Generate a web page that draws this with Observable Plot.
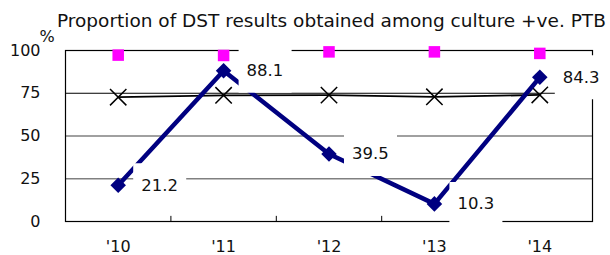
<!DOCTYPE html>
<html>
<head>
<meta charset="utf-8">
<script src="https://cdn.jsdelivr.net/npm/d3@7"></script>
<script src="https://cdn.jsdelivr.net/npm/@observablehq/plot@0.6"></script>
<style>
  html, body { margin: 0; padding: 0; background: #fff; }
  #title { font-family: "DejaVu Sans", sans-serif; font-size: 18.5px; color: #111; height: 25px; line-height: 35px; padding-left: 57px; white-space: nowrap; box-sizing: border-box; padding-top: 3px; overflow: visible; position: relative; z-index: 1; }
</style>
</head>
<body>
<div id="title">Proportion of DST results obtained among culture +ve. PTB</div>
<div id="chart"></div>
<script>
const years = ["'10", "'11", "'12", "'13", "'14"];
const dstObtained = [21.2, 88.1, 39.5, 10.3, 84.3];
const blackSeries = [72.7, 73.8, 73.9, 72.9, 74.0];
const magentaSeries = [97.3, 97.1, 99.2, 99.2, 98.3];
const yTicks = [0, 25, 50, 75, 100];
const yUnit = "%";

const pos = years.map((d, i) => i + 0.5);
const rows = years.map((d, i) => ({x: pos[i], year: d, dst: dstObtained[i], blk: blackSeries[i], mag: magentaSeries[i]}));
const boundaries = d3.range(1, years.length);

const boxSymbol = { draw(ctx) { ctx.rect(15, -22, 53, 44); } };

const chart = Plot.plot({
  width: 610,
  height: 230,
  marginTop: 25,
  marginBottom: 34,
  marginLeft: 65,
  marginRight: 18,
  style: { fontFamily: "DejaVu Sans, sans-serif", fontSize: "16px", color: "#111", background: "transparent" },
  x: { domain: [0, years.length] },
  y: { domain: [0, 100] },
  marks: [
    Plot.ruleY([25, 50], { stroke: "#808080", strokeWidth: 1.5 }),
    Plot.ruleY([75], { stroke: "#000", strokeWidth: 1 }),
    Plot.frame({ stroke: "#000", strokeWidth: 1.2 }),
    Plot.ruleX(boundaries, { y1: 0, y2: 3, stroke: "#000" }),
    Plot.axisY(yTicks, { tickSize: 0, tickPadding: 25, fontSize: 16, label: null }),
    Plot.text([yUnit], { text: d => d, frameAnchor: "top-left", dx: -26, dy: -20, textAnchor: "start", lineAnchor: "top", fontSize: 16, fill: "#111" }),
    Plot.axisX(pos, { tickSize: 0, tickPadding: 19, fontSize: 16, tickFormat: d => years[Math.round(d - 0.5)], label: null }),
    Plot.line(rows, { x: "x", y: "blk", stroke: "#000", strokeWidth: 1.8 }),
    Plot.dot(rows, { x: "x", y: "blk", symbol: "times", r: 7.5, stroke: "#000", strokeWidth: 1.5 }),
    Plot.dot(rows, { x: "x", y: "mag", symbol: "square", r: 6.5, fill: "#ff00ff", stroke: "none" }),
    Plot.line(rows, { x: "x", y: "dst", stroke: "#000080", strokeWidth: 4.5 }),
    Plot.dot(rows, { x: "x", y: "dst", symbol: "diamond2", r: 7, fill: "#000080", stroke: "none" }),
    Plot.dot(rows, { x: "x", y: "dst", symbol: boxSymbol, r: 5, fill: "#fff", stroke: "none" }),
    Plot.text(rows, { x: "x", y: "dst", text: d => d.dst.toFixed(1), dx: 23, textAnchor: "start", fill: "#111", fontSize: 16.5 })
  ]
});
document.getElementById("chart").appendChild(chart);
</script>
</body>
</html>
